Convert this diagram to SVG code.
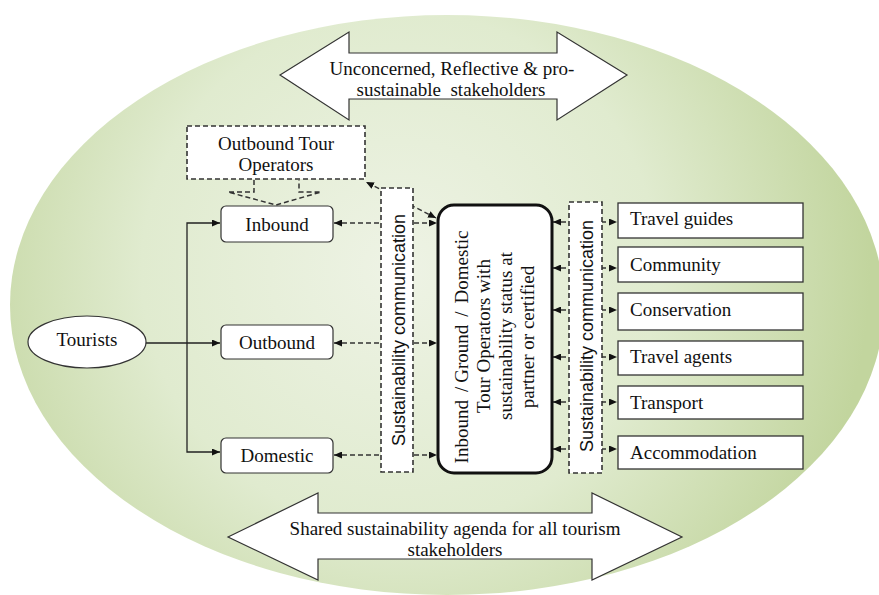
<svg xmlns="http://www.w3.org/2000/svg" width="879" height="595" viewBox="0 0 879 595">
  <defs>
    <radialGradient id="bg" gradientUnits="userSpaceOnUse" cx="400" cy="270" r="470">
      <stop offset="0" stop-color="#eef3e5"/>
      <stop offset="0.55" stop-color="#e0ebcf"/>
      <stop offset="1" stop-color="#c2d59e"/>
    </radialGradient>
    <marker id="ah" viewBox="0 0 8 7" refX="8" refY="3.5" markerWidth="8" markerHeight="7" markerUnits="userSpaceOnUse" orient="auto-start-reverse">
      <path d="M0,0 L8,3.5 L0,7 z" fill="#111"/>
    </marker>
  </defs>
  <style>
    .t { font-family: "Liberation Serif", "Times New Roman", serif; font-size: 19px; fill: #111; }
    .s { font-family: "Liberation Sans", Arial, sans-serif; font-size: 18px; fill: #111; }
    .c { text-anchor: middle; }
    .big { fill: #fff; stroke: #333; stroke-width: 1.2; }
    .rbox { fill: #fff; stroke: #333; stroke-width: 1.3; }
    .sbox { fill: #fff; stroke: #333; stroke-width: 1.2; }
    .dbox { fill: #fff; stroke: #333; stroke-width: 1.6; stroke-dasharray: 5 3; }
    .solid { fill: none; stroke: #222; stroke-width: 1.3; marker-end: url(#ah); }
    .dash { fill: none; stroke: #333; stroke-width: 1.4; stroke-dasharray: 5 3; marker-start: url(#ah); marker-end: url(#ah); }
  </style>

  <ellipse id="background" cx="447" cy="305" rx="437" ry="290" fill="url(#bg)"/>

  <g id="top-arrow">
    <polygon class="big" points="280,75 349,32 349,53 557,53 557,32 627,75 557,120 557,99 349,99 349,120"/>
    <text class="t c" x="452" y="75">Unconcerned, Reflective &amp; pro-</text>
    <text class="t c" x="451" y="96" xml:space="preserve">sustainable  stakeholders</text>
  </g>

  <g id="bottom-arrow">
    <polygon class="big" points="228,537 318,493 318,513 592,513 592,493 682,537 592,580 592,559 318,559 318,580"/>
    <text class="t c" x="455" y="535">Shared sustainability agenda for all tourism</text>
    <text class="t c" x="455" y="556">stakeholders</text>
  </g>

  <g id="connectors">
    <path class="solid" d="M146,343 L220,343"/>
    <path class="solid" style="marker-start:url(#ah)" d="M220,223 L187,223 L187,452 L220,452"/>
    <path class="dash" d="M334,223 L437,223"/>
    <path class="dash" d="M334,343 L437,343"/>
    <path class="dash" d="M334,455 L437,455"/>
    <path class="dash" d="M436,218 L366,182"/>
    <path class="dash" d="M553,222 L617,222"/>
    <path class="dash" d="M553,268 L617,268"/>
    <path class="dash" d="M553,310 L617,310"/>
    <path class="dash" d="M553,357 L617,357"/>
    <path class="dash" d="M553,402 L617,402"/>
    <path class="dash" d="M553,449 L617,449"/>
    <path fill="none" stroke="#333" stroke-width="1.5" stroke-dasharray="5 3" d="M254,180 L254,192 L228,192 L276,205 L321,192 L299,192 L299,180"/>
  </g>

  <g id="outbound-tour-operators">
    <rect class="dbox" x="187" y="126" width="178" height="53"/>
    <text class="t c" x="276" y="150">Outbound Tour</text>
    <text class="t c" x="276" y="171">Operators</text>
  </g>

  <g id="tourists">
    <ellipse class="sbox" cx="87" cy="342" rx="59" ry="26"/>
    <text class="t c" x="87" y="346">Tourists</text>
  </g>

  <g id="inbound">
    <rect class="sbox" x="221" y="206" width="112" height="36" rx="5"/>
    <text class="t c" x="277" y="231">Inbound</text>
  </g>
  <g id="outbound">
    <rect class="sbox" x="221" y="325" width="112" height="34" rx="5"/>
    <text class="t c" x="277" y="349">Outbound</text>
  </g>
  <g id="domestic">
    <rect class="sbox" x="221" y="438" width="112" height="35" rx="5"/>
    <text class="t c" x="277" y="462">Domestic</text>
  </g>

  <g id="comm-left">
    <rect class="dbox" x="381" y="188" width="32" height="284"/>
    <text class="s c" transform="translate(398,330) rotate(-90)" x="0" y="6.5">Sustainability communication</text>
  </g>

  <g id="tour-operators">
    <rect x="438" y="205" width="114" height="268" rx="16" fill="#fff" stroke="#111" stroke-width="3"/>
    <g transform="translate(495,340) rotate(-90)">
      <text class="t c" x="-7" y="-27">Inbound<tspan dx="8">/</tspan><tspan dx="4">Ground</tspan><tspan dx="8">/</tspan><tspan dx="8">Domestic</tspan></text>
      <text class="t c" x="4" y="-5">Tour Operators with</text>
      <text class="t c" x="4" y="17">sustainability status at</text>
      <text class="t c" x="3" y="39">partner or certified</text>
    </g>
  </g>

  <g id="comm-right">
    <rect class="dbox" x="569" y="202" width="33" height="271"/>
    <text class="s c" transform="translate(586,336) rotate(-90)" x="0" y="6.5">Sustainability communication</text>
  </g>

  <g id="travel-guides">
    <rect class="rbox" x="618" y="203" width="185" height="35"/>
    <text class="t" x="630" y="225">Travel guides</text>
  </g>
  <g id="community">
    <rect class="rbox" x="618" y="247" width="185" height="35"/>
    <text class="t" x="630" y="271">Community</text>
  </g>
  <g id="conservation">
    <rect class="rbox" x="618" y="293" width="185" height="37"/>
    <text class="t" x="630" y="316">Conservation</text>
  </g>
  <g id="travel-agents">
    <rect class="rbox" x="618" y="341" width="185" height="34"/>
    <text class="t" x="630" y="363">Travel agents</text>
  </g>
  <g id="transport">
    <rect class="rbox" x="618" y="386" width="185" height="33"/>
    <text class="t" x="630" y="409">Transport</text>
  </g>
  <g id="accommodation">
    <rect class="rbox" x="618" y="436" width="185" height="33"/>
    <text class="t" x="630" y="459">Accommodation</text>
  </g>
</svg>
